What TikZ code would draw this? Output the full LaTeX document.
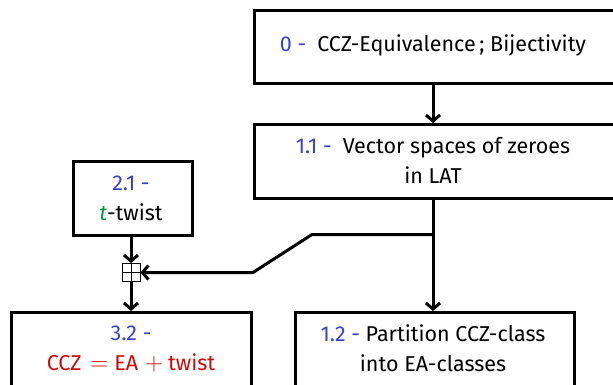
\documentclass[tikz,border=0pt]{standalone}
\usepackage{fontspec}
\setmainfont{Fira Sans}
\usetikzlibrary{arrows.meta}
\definecolor{numblue}{RGB}{55,65,205}
\definecolor{hlred}{RGB}{205,10,10}
\definecolor{hlgreen}{RGB}{0,150,60}
\newcommand{\bigop}[1]{{\fontsize{28}{30}\selectfont$#1$}}
\begin{document}
\begin{tikzpicture}[x=1pt,y=-1pt,
  box/.style={draw,line width=3pt,rectangle,inner sep=0pt,anchor=north west},
  txt/.style={inner sep=0pt,align=center,font=\fontsize{21.5}{30}\selectfont},
  conn/.style={line width=3pt,-{Straight Barb[length=6pt,width=14pt]}},
  plusbox/.style={draw,line width=0.9pt,rectangle,inner sep=0pt,minimum size=18pt,
    path picture={\draw[line width=0.9pt] (path picture bounding box.north) -- (path picture bounding box.south)
      (path picture bounding box.west) -- (path picture bounding box.east);}}]
\useasboundingbox (0,0) rectangle (613,384);
\clip (0,0) rectangle (613,384);
% boxes
\node[box,minimum width=420pt,minimum height=73pt] (b0) at (253,8.5) {};
\node[box,minimum width=420pt,minimum height=73.5pt] (b11) at (253,123) {};
\node[box,minimum width=119pt,minimum height=74.5pt] (b21) at (71.5,159.5) {};
\node[box,minimum width=240pt,minimum height=120pt] (b32) at (10,311) {};
\node[box,minimum width=279.5pt,minimum height=120pt] (b12) at (293.5,311) {};
% texts
\node[txt] (t0) at (433,45) {\textcolor{numblue}{0 -}\hspace{11pt}CCZ-Equivalence\,; Bijectivity};
\node[txt] (t11) at (433,160) {\textcolor{numblue}{1.1 -}\hspace{11pt}Vector spaces of zeroes\\in LAT};
\node[txt] (t21) at (131,198) {\textcolor{numblue}{2.1 -}\\\textcolor{hlgreen}{\textit{t}}-twist};
\node[txt] (t32) at (131,348.5) {\textcolor{numblue}{3.2 -}\\\textcolor{hlred}{CCZ\hspace{9pt}\bigop{=}\hspace{6pt}EA\hspace{7pt}\bigop{+}\hspace{5pt}twist}};
\node[txt] (t12) at (433,348.5) {\textcolor{numblue}{1.2 -} Partition CCZ-class\\into EA-classes};
% plus
\node[plusbox] (pl) at (131,272.5) {};
% connectors
\draw[conn] (t0.south |- b0.south) -- (t0.south |- b11.north);
\coordinate (br) at (433,234.5);
\coordinate (kn) at (312,234.5);
\coordinate (dg) at (253,272.5);
\draw[conn] (t0.south |- b11.south) -- (t0.south |- b12.north);
\draw[conn] (br) -- (kn) -- (dg) -- (pl.east);
\draw[conn] (pl.north |- b21.south) -- (pl.north);
\draw[conn] (pl.south) -- (pl.south |- b32.north);
\end{tikzpicture}
\end{document}
